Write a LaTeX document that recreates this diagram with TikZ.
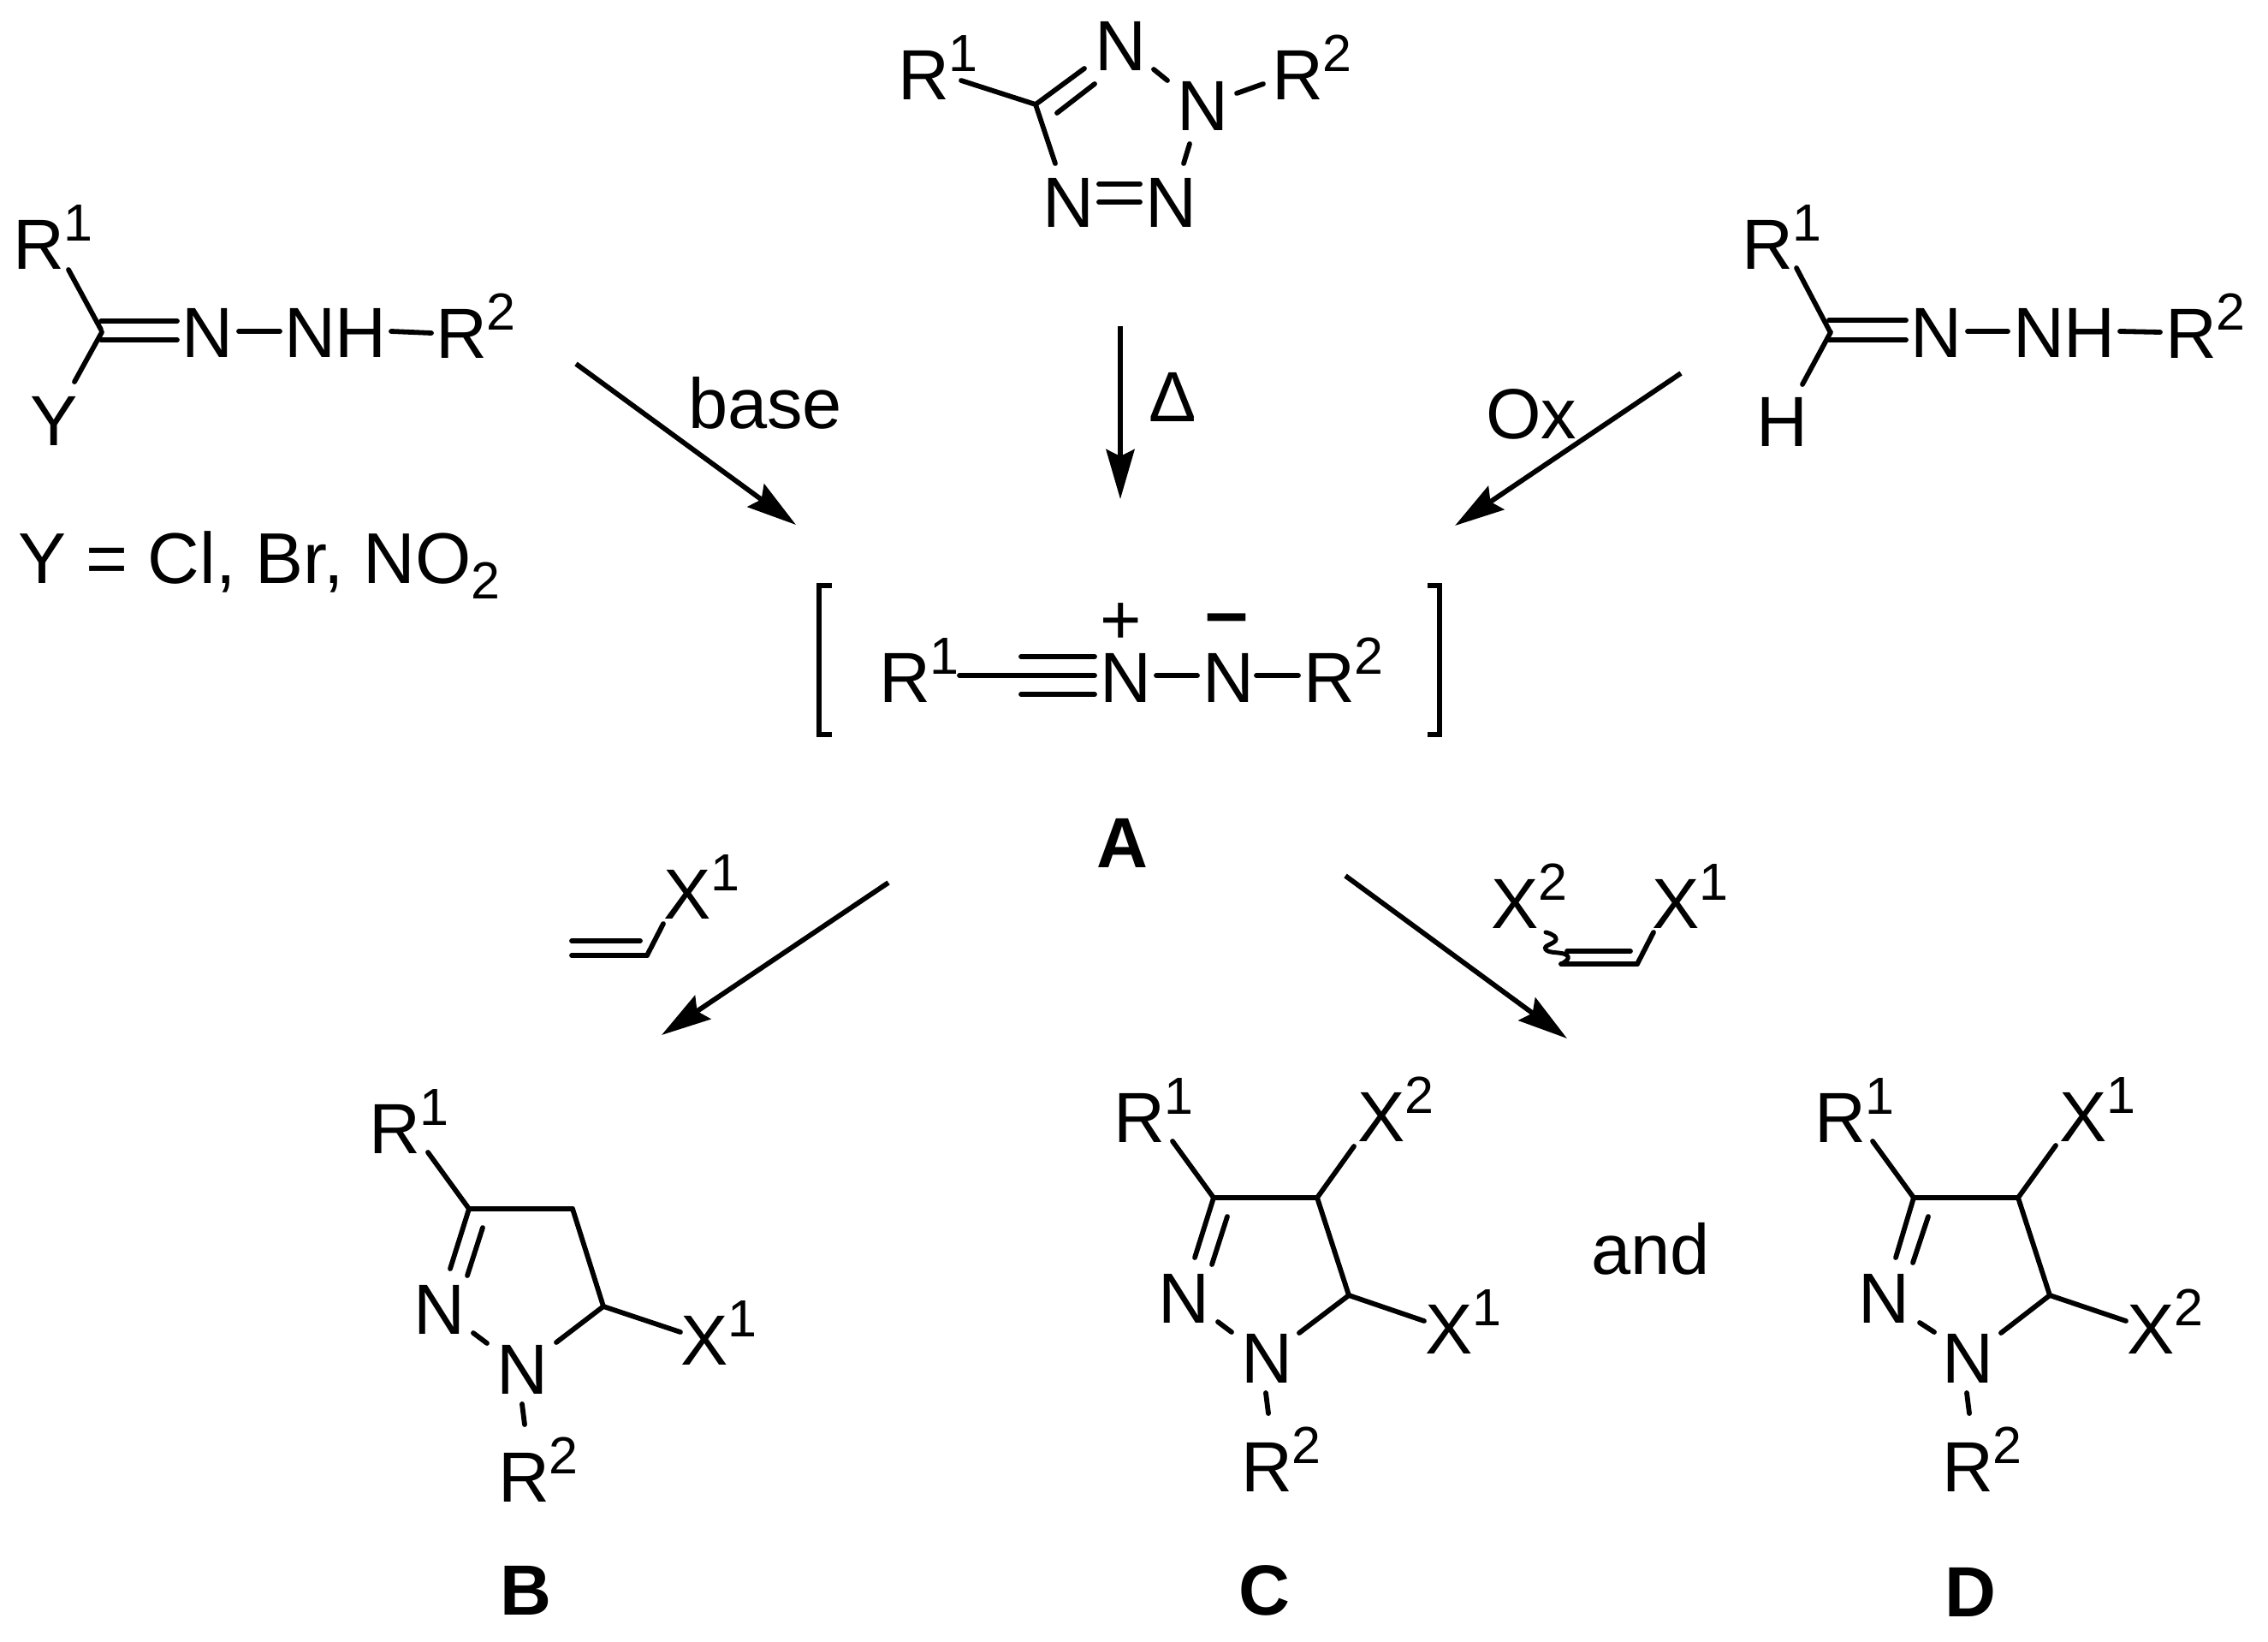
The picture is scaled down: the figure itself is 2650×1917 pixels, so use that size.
\documentclass[tikz,border=0pt]{standalone}
\usepackage{fontspec}
\setmainfont{Liberation Sans}
\usetikzlibrary{arrows.meta}
\newcommand{\supr}[1]{\raisebox{16.5pt}{\fontsize{30.5}{36}\selectfont #1}}
\newcommand{\subr}[1]{\raisebox{-9pt}{\fontsize{30.5}{36}\selectfont #1}}
\newcommand{\lab}[4]{\node[lbl] (#1) at (#2,#3) {#4};}
\newcommand{\bond}[5]{\coordinate (#1a) at (#2,#3); \coordinate (#1b) at (#4,#5); \draw[bondline] (#1a) -- (#1b);}
\newcommand{\rxn}[5]{\coordinate (#1a) at (#2,#3); \coordinate (#1b) at (#4,#5); \draw[rxnarrow] (#1a) -- (#1b);}
\tikzset{
  lbl/.style={anchor=base west,inner sep=0pt,outer sep=0pt,font=\fontsize{41.5}{48}\selectfont},
  boldlbl/.style={lbl,font=\fontsize{41.5}{48}\selectfont\bfseries},
  bondline/.style={line width=2.9pt,line cap=round,black},
  rxnarrow/.style={line width=2.9pt,black,-{Stealth[length=29pt,width=16.5pt,inset=4pt]}},
  bracket/.style={line width=3.2pt,black,miter limit=10}
}
\begin{document}
\begin{tikzpicture}[x=0.5pt,y=-0.5pt]
\useasboundingbox[fill=white] (0,0) rectangle (2650,1917);

% left hydrazonoyl compound
\lab{lR1}{15}{314}{R\supr{1}}
\lab{lN}{212}{417}{N}
\lab{lNH}{332}{417}{NH}
\lab{lR2}{509}{418}{R\supr{2}}
\lab{lY}{35}{520}{Y}
\node[lbl,font=\fontsize{42}{48}\selectfont] (lYdef) at (21,681) {Y = Cl, Br, NO\subr{2}};
\bond{la}{80}{315}{118}{385}
\bond{lb}{119}{388}{87}{446}
\bond{lc}{118}{375}{207}{375}
\bond{ld}{118}{397}{207}{397}
\bond{le}{279}{387}{327}{387}
\bond{lf}{457}{387}{504}{389}

% tetrazole
\lab{tR1}{1049}{116}{R\supr{1}}
\lab{tN1}{1279}{82}{N}
\lab{tN2}{1375}{152}{N}
\lab{tR2}{1486}{116}{R\supr{2}}
\lab{tN3}{1218}{265}{N}
\lab{tN4}{1338}{265}{N}
\bond{ta}{1123}{94}{1210}{122}
\bond{tb}{1210}{122}{1267}{80}
\bond{tc}{1235}{132}{1279}{98}
\bond{td}{1210}{122}{1233}{191}
\bond{te}{1284}{215}{1332}{215}
\bond{tf}{1284}{236}{1332}{236}
\bond{tg}{1348}{81}{1364}{94}
\bond{th}{1445}{109}{1476}{98}
\bond{ti}{1390}{168}{1383}{191}

% right hydrazone
\lab{rR1}{2035}{314}{R\supr{1}}
\lab{rN}{2232}{417}{N}
\lab{rNH}{2352}{417}{NH}
\lab{rR2}{2530}{418}{R\supr{2}}
\lab{rH}{2052}{521}{H}
\bond{ra}{2099}{313}{2138}{387}
\bond{rb}{2139}{388}{2106}{449}
\bond{rc}{2137}{374}{2227}{374}
\bond{rd}{2137}{397}{2227}{397}
\bond{re}{2299}{387}{2346}{387}
\bond{rf}{2477}{387}{2524}{388}

% upper arrows
\rxn{aa}{673}{425}{930}{613}
\rxn{ab}{1309}{381}{1309}{583}
\rxn{ac}{1964}{436}{1700}{614}
\lab{lbase}{804}{500}{base}
\lab{ldelta}{1342}{492}{Δ}
\lab{lox}{1736}{512}{Ox}

% nitrile imine A
\coordinate (bl1) at (972,684); \coordinate (bl2) at (957,684);
\coordinate (bl3) at (957,858); \coordinate (bl4) at (972,858);
\draw[bracket] (bl1) -- (bl2) -- (bl3) -- (bl4);
\coordinate (br1) at (1668,684); \coordinate (br2) at (1682,684);
\coordinate (br3) at (1682,858); \coordinate (br4) at (1668,858);
\draw[bracket] (br1) -- (br2) -- (br3) -- (br4);
\lab{aR1}{1027}{820}{R\supr{1}}
\lab{aN1}{1285}{820}{N}
\lab{aN2}{1405}{820}{N}
\lab{aR2}{1523}{820}{R\supr{2}}
\lab{aplus}{1285}{752}{+}
\node[lbl,font=\fontsize{45}{50}\selectfont\bfseries] (aminus) at (1408,745) {–};
\node[boldlbl] (lA) at (1281,1013) {A};
\bond{aa1}{1121}{789}{1279}{789}
\bond{aa2}{1193}{767}{1279}{767}
\bond{aa3}{1193}{811}{1279}{811}
\bond{ab1}{1351}{789}{1399}{789}
\bond{ab2}{1468}{789}{1517}{789}

% lower arrows and reagents
\rxn{ad}{1038}{1031}{773}{1209}
\rxn{ae}{1572}{1023}{1831}{1213}
\lab{vX1}{775}{1073}{X\supr{1}}
\bond{va}{668}{1099}{748}{1099}
\bond{vb}{668}{1116}{756}{1116}
\bond{vc}{756}{1116}{775}{1079}
\lab{wX2}{1742}{1084}{X\supr{2}}
\lab{wX1}{1930}{1084}{X\supr{1}}
\bond{wa}{1831}{1111}{1905}{1111}
\bond{wb}{1824}{1126}{1913}{1126}
\bond{wc}{1913}{1126}{1932}{1089}
\coordinate (w1) at (1806,1089); \coordinate (w2) at (1818,1097);
\coordinate (w3) at (1806,1109); \coordinate (w4) at (1831,1116);
\coordinate (w5) at (1824,1126);
\draw[bondline,line width=2.5pt] plot[smooth,tension=1] coordinates {(w1) (w2) (w3) (w4) (w5)};

% product B
\lab{bR1}{431}{1347}{R\supr{1}}
\lab{bN2}{483}{1558}{N}
\lab{bN1}{580}{1628}{N}
\lab{bX1}{795}{1594}{X\supr{1}}
\lab{bR2}{582}{1754}{R\supr{2}}
\node[boldlbl] (lB) at (584,1886) {B};
\bond{ba}{500}{1346}{548}{1412}
\bond{bb}{548}{1412}{669}{1412}
\bond{bc}{669}{1412}{705}{1526}
\bond{bd}{705}{1526}{795}{1556}
\bond{be}{705}{1526}{650}{1568}
\bond{bf}{548}{1412}{526}{1482}
\bond{bg}{564}{1434}{546}{1490}
\bond{bh}{553}{1557}{569}{1569}
\bond{bi}{610}{1640}{613}{1664}

% product C
\lab{cR1}{1301}{1334}{R\supr{1}}
\lab{cN2}{1353}{1545}{N}
\lab{cN1}{1450}{1615}{N}
\lab{cR2}{1450}{1742}{R\supr{2}}
\lab{cX2}{1586}{1333}{X\supr{2}}
\lab{cX1}{1665}{1581}{X\supr{1}}
\node[boldlbl] (lC) at (1447,1886) {C};
\lab{land}{1859}{1488}{and}
\bond{ca}{1370}{1333}{1418}{1399}
\bond{cb}{1418}{1399}{1539}{1399}
\bond{cc}{1539}{1399}{1576}{1513}
\bond{cd}{1576}{1513}{1664}{1543}
\bond{ce}{1576}{1513}{1518}{1557}
\bond{cf}{1539}{1399}{1582}{1339}
\bond{cg}{1418}{1399}{1396}{1469}
\bond{ch}{1434}{1421}{1416}{1477}
\bond{ci}{1423}{1544}{1439}{1556}
\bond{cj}{1479}{1627}{1482}{1651}

% product D
\lab{dR1}{2120}{1334}{R\supr{1}}
\lab{dN2}{2171}{1545}{N}
\lab{dN1}{2269}{1615}{N}
\lab{dR2}{2269}{1742}{R\supr{2}}
\lab{dX1}{2406}{1333}{X\supr{1}}
\lab{dX2}{2485}{1581}{X\supr{2}}
\node[boldlbl] (lD) at (2272,1888) {D};
\bond{da}{2188}{1333}{2236}{1399}
\bond{db}{2236}{1399}{2358}{1399}
\bond{dc}{2358}{1399}{2395}{1513}
\bond{dd}{2395}{1513}{2484}{1543}
\bond{de}{2395}{1513}{2338}{1557}
\bond{df}{2358}{1399}{2402}{1338}
\bond{dg}{2236}{1399}{2215}{1469}
\bond{dh}{2253}{1421}{2235}{1475}
\bond{di}{2243}{1545}{2260}{1556}
\bond{dj}{2298}{1627}{2301}{1651}
\end{tikzpicture}
\end{document}
